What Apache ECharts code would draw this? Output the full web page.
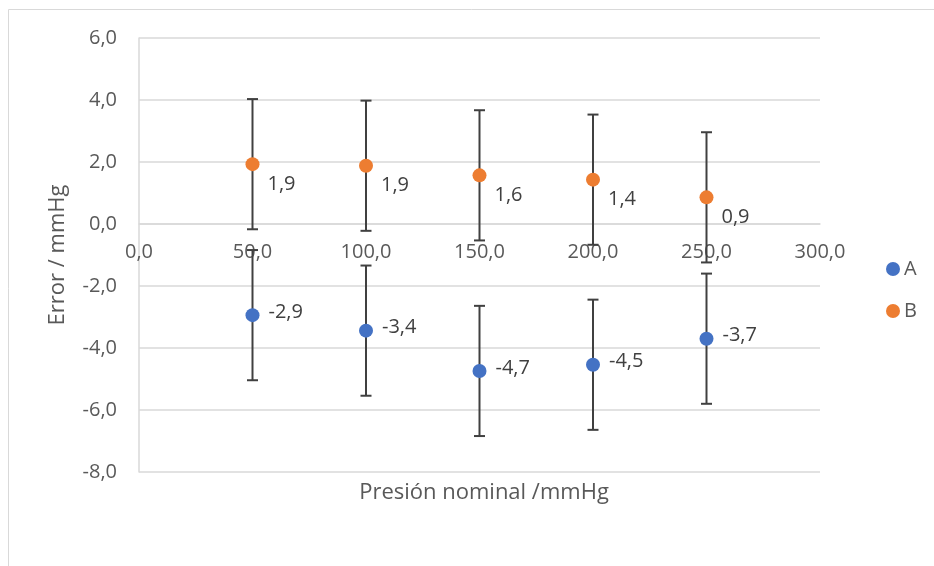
<!DOCTYPE html>
<html>
<head>
<meta charset="utf-8">
<title>Error vs presión nominal</title>
<script src="https://cdn.jsdelivr.net/npm/echarts@6/dist/echarts.min.js"></script>
<style>
  html, body { margin: 0; padding: 0; background: #fff; }
  #chart { width: 934px; height: 566px; }
</style>
</head>
<body>
<div id="chart"></div>
<script>
  // datos
  var presion = [50, 100, 150, 200, 250]
  var errorA = [-2.94, -3.44, -4.74, -4.54, -3.70]
  var errorB = [1.93, 1.88, 1.57, 1.43, 0.86]
  var barraA = [2.1, 2.1, 2.1, 2.1, 2.1]
  var barraB = [2.1, 2.1, 2.1, 2.1, 2.1]
  var xTicks = [0, 50, 100, 150, 200, 250, 300]
  var yTicks = [-8, -6, -4, -2, 0, 2, 4, 6]

  var font = 'Open Sans'
  var colorA = '#4472C4'
  var colorB = '#ED7D31'

  var gridTop = 38
  var gridBottom = 94
  var gridH = 566 - gridTop - gridBottom
  var yMin = yTicks[0]
  var yMax = yTicks[yTicks.length - 1]
  // el eje X cruza en 0, se sube desde abajo
  var xOffset = -gridH * (0 - yMin) / (yMax - yMin)

  function coma(v) {
    return v.toFixed(1).replace('.', ',')
  }

  function puntos(ys) {
    return presion.map(function (x, i) { return [x, ys[i]] })
  }

  function barras(ys, es) {
    return presion.map(function (x, i) { return [x, ys[i], es[i]] })
  }

  // barra de error vertical con topes
  function renderBarra(params, api) {
    var x = api.value(0)
    var y = api.value(1)
    var e = api.value(2)
    var top = api.coord([x, y + e])
    var bot = api.coord([x, y - e])
    var hw = 5.5
    var st = { stroke: '#404040', lineWidth: 2 }
    return {
      type: 'group',
      children: [
        { type: 'line', shape: { x1: top[0], y1: top[1], x2: bot[0], y2: bot[1] }, style: st },
        { type: 'line', shape: { x1: top[0] - hw, y1: top[1], x2: top[0] + hw, y2: top[1] }, style: st },
        { type: 'line', shape: { x1: bot[0] - hw, y1: bot[1], x2: bot[0] + hw, y2: bot[1] }, style: st }
      ]
    }
  }

  var chart = echarts.init(document.getElementById('chart'))
  chart.setOption({
    animation: false,
    textStyle: { fontFamily: font },
    grid: {
      left: 139,
      right: 114,
      top: gridTop,
      bottom: gridBottom
    },
    title: {
      text: 'Presión nominal /mmHg',
      left: 479,
      top: 477,
      textAlign: 'center',
      textStyle: {
        fontFamily: font,
        fontSize: 22,
        fontWeight: 'normal',
        color: '#595959'
      }
    },
    legend: {
      orient: 'vertical',
      left: 881,
      top: 254,
      itemWidth: 14,
      itemHeight: 14,
      itemGap: 22,
      icon: 'circle',
      data: ['A', 'B'],
      textStyle: { fontFamily: font, fontSize: 20, color: '#595959', padding: [0, 0, 0, -1] }
    },
    graphic: [{
      type: 'rect',
      shape: { x: 8.5, y: 9.5, width: 960, height: 600 },
      style: { fill: 'none', stroke: '#d9d9d9', lineWidth: 1 },
      silent: true
    }],
    xAxis: {
      type: 'value',
      min: xTicks[0],
      max: xTicks[xTicks.length - 1],
      interval: 50,
      position: 'bottom',
      offset: xOffset,
      axisLine: { show: true, onZero: false, lineStyle: { color: '#d9d9d9', width: 1.5 } },
      axisTick: { show: false },
      splitLine: { show: false },
      axisLabel: {
        margin: 18,
        fontFamily: font,
        fontSize: 20,
        color: '#595959',
        formatter: function (v) { return coma(v) }
      }
    },
    yAxis: {
      type: 'value',
      min: yMin,
      max: yMax,
      interval: 2,
      name: 'Error / mmHg',
      nameLocation: 'middle',
      nameGap: 70,
      nameTextStyle: { fontFamily: font, fontSize: 22, color: '#595959' },
      axisLine: { show: true, onZero: false, lineStyle: { color: '#d9d9d9', width: 1.5 } },
      axisTick: { show: false },
      splitLine: { lineStyle: { color: '#d9d9d9', width: 1.5 } },
      axisLabel: {
        margin: 22,
        fontFamily: font,
        fontSize: 20,
        color: '#595959',
        formatter: function (v) { return coma(v) }
      }
    },
    series: [
      {
        name: 'errA',
        type: 'custom',
        renderItem: renderBarra,
        encode: { x: 0, y: 1 },
        data: barras(errorA, barraA),
        z: 2
      },
      {
        name: 'errB',
        type: 'custom',
        renderItem: renderBarra,
        encode: { x: 0, y: 1 },
        data: barras(errorB, barraB),
        z: 2
      },
      {
        name: 'A',
        type: 'scatter',
        symbolSize: 14,
        itemStyle: { color: colorA, opacity: 1 },
        data: puntos(errorA),
        z: 3,
        label: {
          show: true,
          position: 'right',
          distance: 9,
          offset: [0, -3],
          fontFamily: font,
          fontSize: 20,
          color: '#404040',
          formatter: function (p) { return coma(p.value[1]) }
        }
      },
      {
        name: 'B',
        type: 'scatter',
        symbolSize: 14,
        itemStyle: { color: colorB, opacity: 1 },
        data: puntos(errorB),
        z: 3,
        label: {
          show: true,
          position: 'right',
          distance: 8,
          offset: [0, 20],
          fontFamily: font,
          fontSize: 20,
          color: '#404040',
          formatter: function (p) { return coma(p.value[1]) }
        }
      }
    ]
  })
</script>
</body>
</html>
